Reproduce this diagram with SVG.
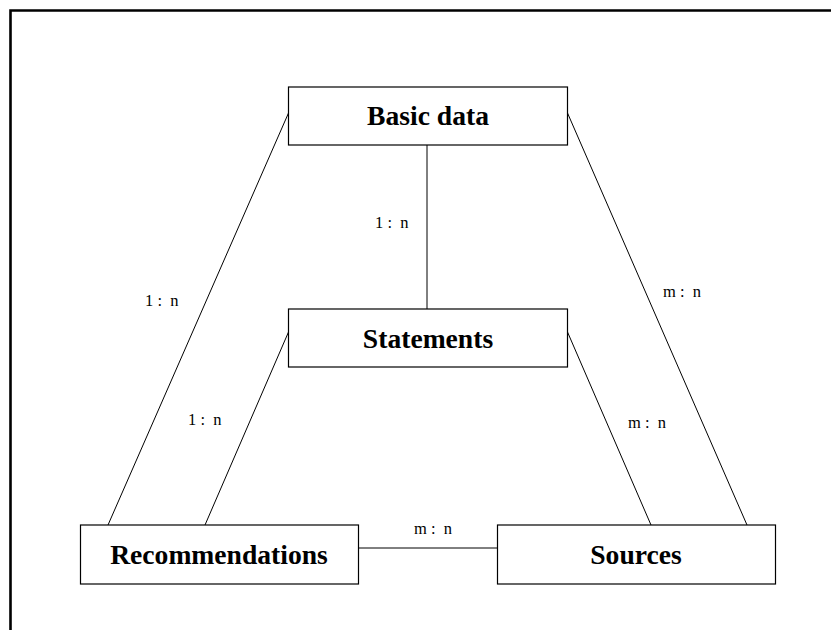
<svg xmlns="http://www.w3.org/2000/svg" width="831" height="630" viewBox="0 0 831 630">
<style>
.box{fill:#fff;stroke:#000;stroke-width:1.2}
.title{font-family:"Liberation Serif",serif;font-weight:bold;font-size:27.6px;text-anchor:middle;fill:#000}
.lbl{font-family:"Liberation Serif",serif;font-size:16.5px;fill:#000;white-space:pre}
.conn line{stroke:#000;stroke-width:1}
</style>
<rect x="0" y="0" width="831" height="630" fill="#fff"/>
<path d="M10.5 640 V10.5 H840" fill="none" stroke="#000" stroke-width="2.6"/>
<g id="connectors" class="conn">
<line x1="427" y1="145" x2="427" y2="309"/>
<line x1="288.5" y1="113" x2="108" y2="525"/>
<line x1="567.5" y1="113" x2="747" y2="525"/>
<line x1="288.5" y1="332" x2="205" y2="525"/>
<line x1="567.5" y1="332" x2="651" y2="525"/>
<line x1="358.5" y1="548" x2="497.5" y2="548"/>
</g>
<g id="labels" xml:space="preserve">
<text class="lbl" x="145" y="306">1 :  n</text>
<text class="lbl" x="375" y="228">1 :  n</text>
<text class="lbl" x="663" y="296.5">m :  n</text>
<text class="lbl" x="188" y="425">1 :  n</text>
<text class="lbl" x="628" y="428">m :  n</text>
<text class="lbl" x="414" y="534">m :  n</text>
</g>
<g id="basic-data">
<rect class="box" x="288.5" y="87" width="279" height="58"/>
<text class="title" x="428" y="125">Basic data</text>
</g>
<g id="statements">
<rect class="box" x="288.5" y="309" width="279" height="58"/>
<text class="title" x="428" y="348">Statements</text>
</g>
<g id="recommendations">
<rect class="box" x="80.5" y="525" width="278" height="59"/>
<text class="title" x="219" y="564">Recommendations</text>
</g>
<g id="sources">
<rect class="box" x="497.5" y="525" width="278" height="59"/>
<text class="title" x="636" y="564">Sources</text>
</g>
</svg>
